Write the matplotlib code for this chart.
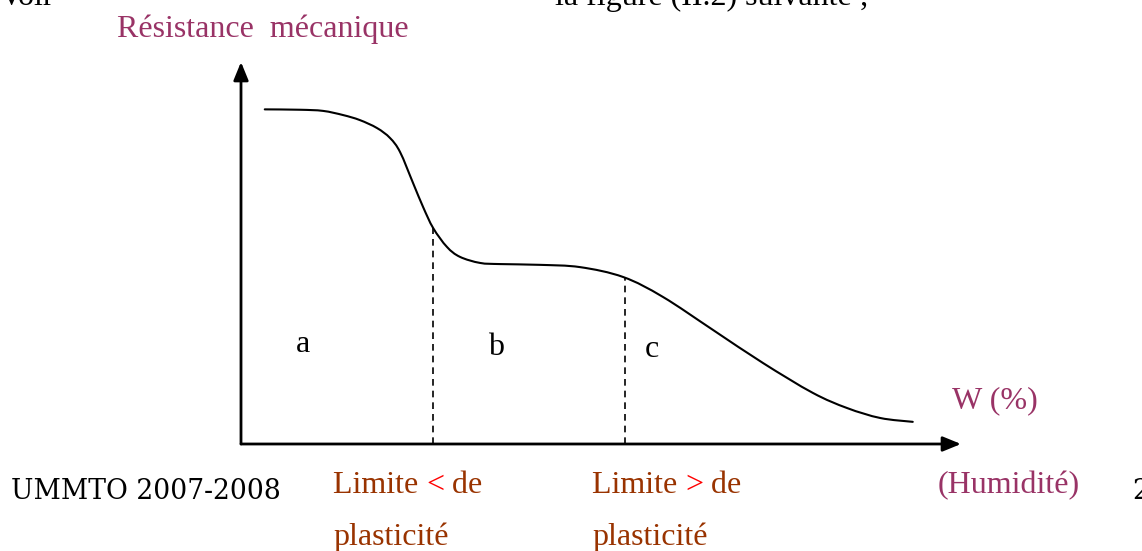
import matplotlib
matplotlib.use("Agg")
import matplotlib.pyplot as plt
from matplotlib.path import Path
from matplotlib.patches import PathPatch
import numpy as np

# ---- data (W in % of axis length, resistance in % of axis height) ----
curve_w = [3.3, 8.2, 11.4, 14.2, 16.5, 18.9, 20.7, 22.1, 23.9, 25.3, 26.7, 28.6,
           30.4, 33.2, 36.0, 41.5, 47.1, 53.1, 58.6, 65.6, 72.5, 79.4, 84.2,
           88.8, 93.3]
curve_r = [87.6, 87.5, 87.2, 86.1, 84.8, 82.7, 80.1, 76.4, 68.3, 62.0, 56.5, 51.6,
           49.0, 47.4, 47.1, 46.9, 46.3, 43.7, 38.5, 29.8, 21.2, 13.4, 9.4,
           6.8, 5.8]
limit_w = [26.7, 53.3]
limit_r = [56.5, 43.5]
zone_labels = ["a", "b", "c"]

PURPLE = "#993366"
BROWN = "#993300"
RED = "#FF0000"
SERIF = "Liberation Serif"

W, H = 1142, 551
fig = plt.figure(figsize=(W / 100, H / 100), dpi=100)

# overlay axes in pixel coordinates (y downward) for text placement
ov = fig.add_axes([0, 0, 1, 1])
ov.set_xlim(0, W)
ov.set_ylim(H, 0)
ov.axis("off")

# chart axes
x0, y0, x1, y1 = 241, 444, 961, 62
ax = fig.add_axes([x0 / W, (H - y0) / H, (x1 - x0) / W, (y0 - y1) / H])
ax.set_xlim(0, 100)
ax.set_ylim(0, 100)
ax.axis("off")
ax.patch.set_alpha(0)

# smooth curve through the points (Catmull-Rom rendered as cubic Bezier path)
pts = np.column_stack([curve_w, curve_r])
verts = [pts[0]]
codes = [Path.MOVETO]
n = len(pts)
for i in range(n - 1):
    p0 = pts[max(i - 1, 0)]
    p1 = pts[i]
    p2 = pts[i + 1]
    p3 = pts[min(i + 2, n - 1)]
    c1 = p1 + (p2 - p0) / 6.0
    c2 = p2 - (p3 - p1) / 6.0
    verts += [c1, c2, p2]
    codes += [Path.CURVE4] * 3
ax.add_patch(PathPatch(Path(verts, codes), facecolor="none", edgecolor="black",
                       lw=1.5, capstyle="round"))

for w, r in zip(limit_w, limit_r):
    ax.plot([w, w], [0, r], color="black", lw=1.2, ls=(0, (4, 3)))

# arrows
ax.annotate("", xy=(100, 0), xytext=(0, 0),
            arrowprops=dict(arrowstyle="-|>,head_length=1.1,head_width=0.45",
                            color="black", lw=2, shrinkA=0, shrinkB=0))
ax.annotate("", xy=(0, 100), xytext=(0, 0),
            arrowprops=dict(arrowstyle="-|>,head_length=1.1,head_width=0.45",
                            color="black", lw=2, shrinkA=0, shrinkB=0))

FS = 23
# header text (partially cut, as in the reference)
ov.text(0, 5, "Voir", fontsize=FS, family=SERIF, color="black", va="baseline")
ov.text(555, 5, "la figure (II.2) suivante ;", fontsize=FS, family=SERIF,
        color="black", va="baseline")

ov.text(117, 37, "Résistance  mécanique", fontsize=FS, family=SERIF,
        color=PURPLE, va="baseline")

# zone labels
for lbl, (px, py) in zip(zone_labels, [(296, 352), (488, 355), (645, 357)]):
    ov.text(px, py, lbl, fontsize=FS, family=SERIF, color="black", va="baseline")

ov.text(952, 408, "W (%)", fontsize=FS, family=SERIF, color=PURPLE, va="baseline")
ov.text(938, 493, "(Humidité)", fontsize=FS, family=SERIF, color=PURPLE,
        va="baseline")

fig.canvas.draw()
renderer = fig.canvas.get_renderer()


def multi_text(px, py, parts):
    x = px
    for s, c in parts:
        t = ov.text(x, py, s, fontsize=FS, family=SERIF, color=c, va="baseline")
        bb = t.get_window_extent(renderer)
        x += bb.width  # pixels == data units in overlay


multi_text(333, 493, [("Limite ", BROWN), ("<", RED), (" de", BROWN)])
multi_text(592, 493, [("Limite ", BROWN), (">", RED), (" de", BROWN)])
ov.text(333, 545, "plasticité", fontsize=FS, family=SERIF, color=BROWN, va="baseline")
ov.text(592, 545, "plasticité", fontsize=FS, family=SERIF, color=BROWN, va="baseline")

# footer in a slab-serif face, fitted to the reference width
ft = ov.text(11, 499, "UMMTO 2007-2008", fontsize=20, family="DejaVu Serif",
             color="black", va="baseline")
wpx = ft.get_window_extent(renderer).width
ft.set_fontsize(20 * 269 / wpx)
ov.text(1132, 499, "2", fontsize=ft.get_fontsize(), family="DejaVu Serif",
        color="black", va="baseline")

fig.savefig("out.png", dpi=100)
